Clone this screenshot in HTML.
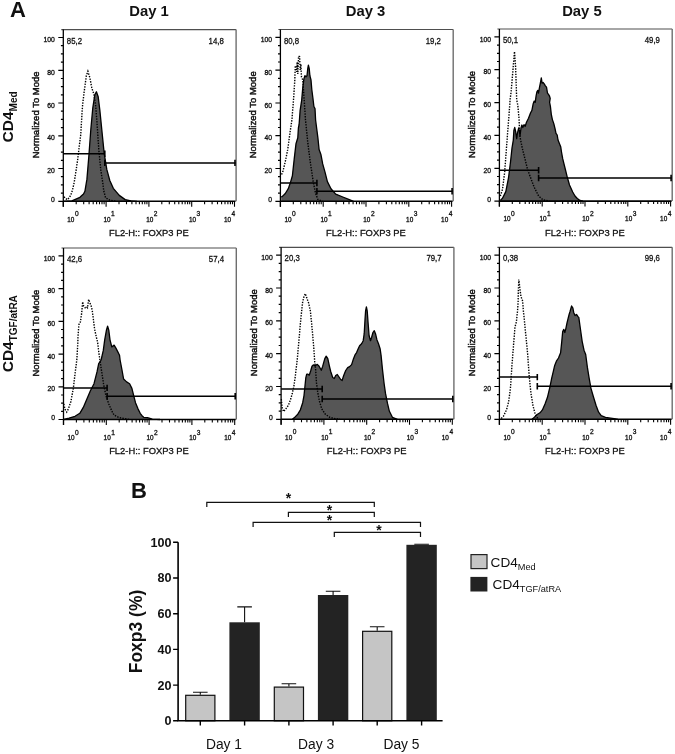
<!DOCTYPE html>
<html><head><meta charset="utf-8"><style>
html,body{margin:0;padding:0;background:#fff;width:675px;height:754px;overflow:hidden}
svg{display:block;will-change:transform}
text{font-family:"Liberation Sans", sans-serif;fill:#111}
.t{stroke:#111;stroke-width:0.3}
.t2{stroke:#111;stroke-width:0.45}
</style></head><body>
<svg width="675" height="754" viewBox="0 0 675 754">
<rect width="675" height="754" fill="#fff"/>
<text x="10.0" y="17.3" font-size="22" font-weight="bold">A</text>
<text x="149.0" y="16.4" text-anchor="middle" font-size="14.8" font-weight="bold">Day 1</text>
<text x="365.5" y="16.4" text-anchor="middle" font-size="14.8" font-weight="bold">Day 3</text>
<text x="581.9" y="16.4" text-anchor="middle" font-size="14.8" font-weight="bold">Day 5</text>
<text transform="translate(12.9,142.4) rotate(-90)" font-size="15.5" font-weight="bold">CD4<tspan font-size="10" dy="3.9">Med</tspan></text>
<text transform="translate(12.9,372.3) rotate(-90)" font-size="15.5" font-weight="bold">CD4<tspan font-size="10" dy="3.9">TGF/atRA</tspan></text>
<polygon points="64.0,201.3 64.0,201.3 71.9,200.9 79.9,197.3 83.5,194.0 84.9,191.3 86.9,179.4 88.9,155.5 90.8,129.7 92.8,107.8 94.8,94.8 96.4,91.8 98.2,96.8 99.8,109.8 101.8,129.7 104.2,153.5 106.8,169.4 109.8,180.5 113.3,188.3 119.3,195.4 125.2,199.6 131.0,200.8 137.0,201.3 137.0,201.3" fill="#565656" stroke="none"/>
<polyline points="64.0,201.3 71.9,200.9 79.9,197.3 83.5,194.0 84.9,191.3 86.9,179.4 88.9,155.5 90.8,129.7 92.8,107.8 94.8,94.8 96.4,91.8 98.2,96.8 99.8,109.8 101.8,129.7 104.2,153.5 106.8,169.4 109.8,180.5 113.3,188.3 119.3,195.4 125.2,199.6 131.0,200.8 137.0,201.3" fill="none" stroke="#000" stroke-width="1.3" stroke-linejoin="round"/>
<polyline points="64.0,196.8 65.5,198.6 67.7,199.6 70.7,195.4 72.5,190.0 74.2,182.4 76.0,171.0 77.8,158.7 79.3,146.0 80.7,135.0 81.6,120.0 82.5,106.0 83.9,93.8 86.3,75.9 87.9,71.3 89.9,77.9 91.8,87.9 93.8,93.8 95.5,104.0 96.8,119.7 98.8,149.6 100.8,170.0 102.7,182.4 103.8,191.0 105.6,197.8 109.8,200.2 116.0,201.3" fill="none" stroke="#000" stroke-width="1.4" stroke-dasharray="1.4 1.3"/>
<path d="M61.3,29.6H236.1" fill="none" stroke="#4e4e4e" stroke-width="1.2"/>
<path d="M236.1,29.6V201.3" fill="none" stroke="#6e6e6e" stroke-width="1.4"/>
<path d="M63.3,29.6V206.8" stroke="#000" stroke-width="1.3"/>
<path d="M63.3,201.3H235.5" stroke="#000" stroke-width="1.6"/>
<path d="M58.3,201.3H63.3M60.9,193.1H63.3M60.9,184.9H63.3M60.9,176.7H63.3M58.3,168.5H63.3M60.9,160.4H63.3M60.9,152.2H63.3M60.9,144.0H63.3M58.3,135.8H63.3M60.9,127.6H63.3M60.9,119.4H63.3M60.9,111.2H63.3M58.3,103.0H63.3M60.9,94.8H63.3M60.9,86.6H63.3M60.9,78.5H63.3M58.3,70.3H63.3M60.9,62.1H63.3M60.9,53.9H63.3M60.9,45.7H63.3M58.3,37.5H63.3" stroke="#000" stroke-width="1.2"/>
<path d="M63.3,201.3V206.8M76.2,201.3V204.3M83.7,201.3V204.3M89.1,201.3V204.3M93.2,201.3V204.3M96.6,201.3V204.3M99.5,201.3V204.3M102.0,201.3V204.3M104.1,201.3V204.3M106.1,201.3V206.8M119.0,201.3V204.3M126.5,201.3V204.3M131.9,201.3V204.3M136.0,201.3V204.3M139.4,201.3V204.3M142.3,201.3V204.3M144.8,201.3V204.3M146.9,201.3V204.3M148.9,201.3V206.8M161.8,201.3V204.3M169.3,201.3V204.3M174.7,201.3V204.3M178.8,201.3V204.3M182.2,201.3V204.3M185.1,201.3V204.3M187.6,201.3V204.3M189.7,201.3V204.3M191.7,201.3V206.8M204.6,201.3V204.3M212.1,201.3V204.3M217.5,201.3V204.3M221.6,201.3V204.3M225.0,201.3V204.3M227.9,201.3V204.3M230.4,201.3V204.3M232.5,201.3V204.3M234.5,201.3V206.8" stroke="#000" stroke-width="1.1"/>
<text x="54.9" y="202.2" text-anchor="end" font-size="6.8" class="t">0</text>
<text x="54.9" y="173.1" text-anchor="end" font-size="6.8" class="t">20</text>
<text x="54.9" y="140.4" text-anchor="end" font-size="6.8" class="t">40</text>
<text x="54.9" y="107.6" text-anchor="end" font-size="6.8" class="t">60</text>
<text x="54.9" y="74.9" text-anchor="end" font-size="6.8" class="t">80</text>
<text x="54.9" y="42.1" text-anchor="end" font-size="6.8" class="t">100</text>
<text x="67.3" y="221.5" font-size="6.4" class="t">10</text>
<text x="74.9" y="216.3" font-size="6.6" class="t">0</text>
<text x="103.4" y="221.5" font-size="6.4" class="t">10</text>
<text x="111.0" y="216.3" font-size="6.6" class="t">1</text>
<text x="146.2" y="221.5" font-size="6.4" class="t">10</text>
<text x="153.8" y="216.3" font-size="6.6" class="t">2</text>
<text x="189.0" y="221.5" font-size="6.4" class="t">10</text>
<text x="196.6" y="216.3" font-size="6.6" class="t">3</text>
<text x="224.0" y="221.5" font-size="6.4" class="t">10</text>
<text x="231.6" y="216.3" font-size="6.6" class="t">4</text>
<text x="148.8" y="236.1" text-anchor="middle" font-size="9.4" class="t">FL2-H:: FOXP3 PE</text>
<text transform="translate(38.8,114.9) rotate(-90)" text-anchor="middle" font-size="9.5" class="t2">Normalized To Mode</text>
<text transform="translate(66.8,43.6) scale(0.85,1)" font-size="9.2" class="t">85,2</text>
<text transform="translate(223.8,43.6) scale(0.85,1)" text-anchor="end" font-size="9.2" class="t">14,8</text>
<path d="M63.3,153.7H104.8M104.8,162.9H235.5" stroke="#000" stroke-width="1.5"/>
<path d="M104.8,150.5V156.9M104.8,159.7V166.1M235.0,159.7V166.1" stroke="#000" stroke-width="1.6"/>
<polygon points="281.2,201.3 281.2,197.0 282.4,196.4 285.3,193.5 288.3,188.7 290.7,181.6 292.4,175.7 294.2,159.1 296.0,143.7 297.8,137.8 298.4,128.0 299.1,124.5 300.1,110.7 301.7,100.1 302.8,87.4 303.9,78.9 304.9,75.7 306.0,76.8 307.0,75.7 307.8,68.3 308.4,65.1 309.2,68.3 309.9,75.7 311.0,80.0 311.8,89.5 312.9,98.0 313.9,106.5 315.0,108.6 315.6,120.0 317.9,137.8 319.1,149.6 320.9,154.4 322.7,163.9 325.0,172.1 327.4,181.6 331.0,188.7 335.7,194.1 342.8,197.0 348.7,199.4 353.5,201.3 353.5,201.3" fill="#565656" stroke="none"/>
<polyline points="281.2,197.0 282.4,196.4 285.3,193.5 288.3,188.7 290.7,181.6 292.4,175.7 294.2,159.1 296.0,143.7 297.8,137.8 298.4,128.0 299.1,124.5 300.1,110.7 301.7,100.1 302.8,87.4 303.9,78.9 304.9,75.7 306.0,76.8 307.0,75.7 307.8,68.3 308.4,65.1 309.2,68.3 309.9,75.7 311.0,80.0 311.8,89.5 312.9,98.0 313.9,106.5 315.0,108.6 315.6,120.0 317.9,137.8 319.1,149.6 320.9,154.4 322.7,163.9 325.0,172.1 327.4,181.6 331.0,188.7 335.7,194.1 342.8,197.0 348.7,199.4 353.5,201.3" fill="none" stroke="#000" stroke-width="1.3" stroke-linejoin="round"/>
<polyline points="281.6,174.5 283.0,171.0 285.3,161.5 287.7,149.6 290.1,131.9 291.9,120.0 293.5,100.0 294.8,80.0 295.3,66.2 295.9,65.7 296.6,72.0 297.2,62.0 297.8,74.0 298.6,56.1 299.6,56.7 300.2,70.0 300.8,64.0 301.5,77.0 302.8,80.0 304.2,100.0 305.5,120.0 307.9,143.7 310.2,161.5 313.2,181.6 315.6,193.5 317.9,199.4 322.7,201.3" fill="none" stroke="#000" stroke-width="1.4" stroke-dasharray="1.4 1.3"/>
<path d="M278.4,29.5H453.2" fill="none" stroke="#4e4e4e" stroke-width="1.2"/>
<path d="M453.2,29.5V201.3" fill="none" stroke="#6e6e6e" stroke-width="1.4"/>
<path d="M280.4,29.5V206.8" stroke="#000" stroke-width="1.3"/>
<path d="M280.4,201.3H452.6" stroke="#000" stroke-width="1.6"/>
<path d="M275.4,201.3H280.4M278.0,193.1H280.4M278.0,184.9H280.4M278.0,176.7H280.4M275.4,168.5H280.4M278.0,160.3H280.4M278.0,152.1H280.4M278.0,143.9H280.4M275.4,135.7H280.4M278.0,127.5H280.4M278.0,119.4H280.4M278.0,111.2H280.4M275.4,103.0H280.4M278.0,94.8H280.4M278.0,86.6H280.4M278.0,78.4H280.4M275.4,70.2H280.4M278.0,62.0H280.4M278.0,53.8H280.4M278.0,45.6H280.4M275.4,37.4H280.4" stroke="#000" stroke-width="1.2"/>
<path d="M280.4,201.3V206.8M293.3,201.3V204.3M300.8,201.3V204.3M306.2,201.3V204.3M310.3,201.3V204.3M313.7,201.3V204.3M316.6,201.3V204.3M319.1,201.3V204.3M321.2,201.3V204.3M323.2,201.3V206.8M336.1,201.3V204.3M343.6,201.3V204.3M349.0,201.3V204.3M353.1,201.3V204.3M356.5,201.3V204.3M359.4,201.3V204.3M361.9,201.3V204.3M364.0,201.3V204.3M366.0,201.3V206.8M378.9,201.3V204.3M386.4,201.3V204.3M391.8,201.3V204.3M395.9,201.3V204.3M399.3,201.3V204.3M402.2,201.3V204.3M404.7,201.3V204.3M406.8,201.3V204.3M408.8,201.3V206.8M421.7,201.3V204.3M429.2,201.3V204.3M434.6,201.3V204.3M438.7,201.3V204.3M442.1,201.3V204.3M445.0,201.3V204.3M447.5,201.3V204.3M449.6,201.3V204.3M451.6,201.3V206.8" stroke="#000" stroke-width="1.1"/>
<text x="272.0" y="202.2" text-anchor="end" font-size="6.8" class="t">0</text>
<text x="272.0" y="173.1" text-anchor="end" font-size="6.8" class="t">20</text>
<text x="272.0" y="140.3" text-anchor="end" font-size="6.8" class="t">40</text>
<text x="272.0" y="107.6" text-anchor="end" font-size="6.8" class="t">60</text>
<text x="272.0" y="74.8" text-anchor="end" font-size="6.8" class="t">80</text>
<text x="272.0" y="42.0" text-anchor="end" font-size="6.8" class="t">100</text>
<text x="284.4" y="221.5" font-size="6.4" class="t">10</text>
<text x="292.0" y="216.3" font-size="6.6" class="t">0</text>
<text x="320.5" y="221.5" font-size="6.4" class="t">10</text>
<text x="328.1" y="216.3" font-size="6.6" class="t">1</text>
<text x="363.3" y="221.5" font-size="6.4" class="t">10</text>
<text x="370.9" y="216.3" font-size="6.6" class="t">2</text>
<text x="406.1" y="221.5" font-size="6.4" class="t">10</text>
<text x="413.7" y="216.3" font-size="6.6" class="t">3</text>
<text x="441.1" y="221.5" font-size="6.4" class="t">10</text>
<text x="448.7" y="216.3" font-size="6.6" class="t">4</text>
<text x="365.9" y="236.1" text-anchor="middle" font-size="9.4" class="t">FL2-H:: FOXP3 PE</text>
<text transform="translate(255.9,114.8) rotate(-90)" text-anchor="middle" font-size="9.5" class="t2">Normalized To Mode</text>
<text transform="translate(283.9,43.5) scale(0.85,1)" font-size="9.2" class="t">80,8</text>
<text transform="translate(440.9,43.5) scale(0.85,1)" text-anchor="end" font-size="9.2" class="t">19,2</text>
<path d="M280.4,183.0H316.9M316.9,191.2H452.6" stroke="#000" stroke-width="1.5"/>
<path d="M316.9,179.8V186.2M316.9,188.0V194.4M452.1,188.0V194.4" stroke="#000" stroke-width="1.6"/>
<polygon points="500.3,201.1 500.3,200.4 502.5,198.2 505.8,191.6 508.5,178.0 510.5,162.0 512.0,148.0 513.3,140.1 513.9,130.3 514.7,127.3 515.7,131.6 516.7,138.7 517.5,133.0 518.7,128.0 519.6,131.6 520.0,136.0 521.0,128.0 521.9,125.0 522.8,127.6 524.0,124.7 525.2,126.3 526.5,122.3 528.5,118.3 530.5,113.0 531.9,110.4 533.2,103.7 534.2,101.1 535.2,102.4 536.1,95.8 536.9,91.8 537.8,90.4 538.5,93.1 539.4,87.8 540.5,82.5 541.3,77.8 542.1,83.1 543.1,82.5 544.2,83.8 545.4,85.8 546.5,87.1 547.5,93.1 548.5,94.4 549.4,95.8 550.2,98.4 549.6,102.4 550.4,106.4 551.3,114.3 552.4,119.6 553.8,123.6 555.1,129.0 556.0,133.3 557.2,135.0 558.0,140.0 560.7,146.7 561.5,152.0 562.7,158.7 564.0,164.0 565.5,170.0 567.3,177.3 569.5,185.0 572.7,192.0 575.0,196.0 577.3,198.5 580.0,200.5 583.0,201.1 583.0,201.1" fill="#565656" stroke="none"/>
<polyline points="500.3,200.4 502.5,198.2 505.8,191.6 508.5,178.0 510.5,162.0 512.0,148.0 513.3,140.1 513.9,130.3 514.7,127.3 515.7,131.6 516.7,138.7 517.5,133.0 518.7,128.0 519.6,131.6 520.0,136.0 521.0,128.0 521.9,125.0 522.8,127.6 524.0,124.7 525.2,126.3 526.5,122.3 528.5,118.3 530.5,113.0 531.9,110.4 533.2,103.7 534.2,101.1 535.2,102.4 536.1,95.8 536.9,91.8 537.8,90.4 538.5,93.1 539.4,87.8 540.5,82.5 541.3,77.8 542.1,83.1 543.1,82.5 544.2,83.8 545.4,85.8 546.5,87.1 547.5,93.1 548.5,94.4 549.4,95.8 550.2,98.4 549.6,102.4 550.4,106.4 551.3,114.3 552.4,119.6 553.8,123.6 555.1,129.0 556.0,133.3 557.2,135.0 558.0,140.0 560.7,146.7 561.5,152.0 562.7,158.7 564.0,164.0 565.5,170.0 567.3,177.3 569.5,185.0 572.7,192.0 575.0,196.0 577.3,198.5 580.0,200.5 583.0,201.1" fill="none" stroke="#000" stroke-width="1.3" stroke-linejoin="round"/>
<polyline points="500.3,196.0 502.5,189.4 504.7,171.9 506.8,143.5 509.0,115.0 510.1,99.7 511.2,91.0 512.3,77.8 513.4,64.7 514.5,51.6 515.6,66.9 516.7,99.7 517.8,105.2 518.9,117.2 520.0,136.9 522.2,147.8 524.4,156.6 527.6,169.7 530.9,178.5 534.2,187.2 538.6,196.0 543.0,199.9 549.5,201.1" fill="none" stroke="#000" stroke-width="1.4" stroke-dasharray="1.4 1.3"/>
<path d="M497.4,29.0H672.2" fill="none" stroke="#4e4e4e" stroke-width="1.2"/>
<path d="M672.2,29.0V201.1" fill="none" stroke="#6e6e6e" stroke-width="1.4"/>
<path d="M499.4,29.0V206.6" stroke="#000" stroke-width="1.3"/>
<path d="M499.4,201.1H671.6" stroke="#000" stroke-width="1.6"/>
<path d="M494.4,201.1H499.4M497.0,192.9H499.4M497.0,184.7H499.4M497.0,176.5H499.4M494.4,168.3H499.4M497.0,160.1H499.4M497.0,151.8H499.4M497.0,143.6H499.4M494.4,135.4H499.4M497.0,127.2H499.4M497.0,119.0H499.4M497.0,110.8H499.4M494.4,102.6H499.4M497.0,94.4H499.4M497.0,86.2H499.4M497.0,78.0H499.4M494.4,69.7H499.4M497.0,61.5H499.4M497.0,53.3H499.4M497.0,45.1H499.4M494.4,36.9H499.4" stroke="#000" stroke-width="1.2"/>
<path d="M499.4,201.1V206.6M512.3,201.1V204.1M519.8,201.1V204.1M525.2,201.1V204.1M529.3,201.1V204.1M532.7,201.1V204.1M535.6,201.1V204.1M538.1,201.1V204.1M540.2,201.1V204.1M542.2,201.1V206.6M555.1,201.1V204.1M562.6,201.1V204.1M568.0,201.1V204.1M572.1,201.1V204.1M575.5,201.1V204.1M578.4,201.1V204.1M580.9,201.1V204.1M583.0,201.1V204.1M585.0,201.1V206.6M597.9,201.1V204.1M605.4,201.1V204.1M610.8,201.1V204.1M614.9,201.1V204.1M618.3,201.1V204.1M621.2,201.1V204.1M623.7,201.1V204.1M625.8,201.1V204.1M627.8,201.1V206.6M640.7,201.1V204.1M648.2,201.1V204.1M653.6,201.1V204.1M657.7,201.1V204.1M661.1,201.1V204.1M664.0,201.1V204.1M666.5,201.1V204.1M668.6,201.1V204.1M670.6,201.1V206.6" stroke="#000" stroke-width="1.1"/>
<text x="491.0" y="202.0" text-anchor="end" font-size="6.8" class="t">0</text>
<text x="491.0" y="172.9" text-anchor="end" font-size="6.8" class="t">20</text>
<text x="491.0" y="140.0" text-anchor="end" font-size="6.8" class="t">40</text>
<text x="491.0" y="107.2" text-anchor="end" font-size="6.8" class="t">60</text>
<text x="491.0" y="74.3" text-anchor="end" font-size="6.8" class="t">80</text>
<text x="491.0" y="41.5" text-anchor="end" font-size="6.8" class="t">100</text>
<text x="503.4" y="221.3" font-size="6.4" class="t">10</text>
<text x="511.0" y="216.1" font-size="6.6" class="t">0</text>
<text x="539.5" y="221.3" font-size="6.4" class="t">10</text>
<text x="547.1" y="216.1" font-size="6.6" class="t">1</text>
<text x="582.3" y="221.3" font-size="6.4" class="t">10</text>
<text x="589.9" y="216.1" font-size="6.6" class="t">2</text>
<text x="625.1" y="221.3" font-size="6.4" class="t">10</text>
<text x="632.7" y="216.1" font-size="6.6" class="t">3</text>
<text x="660.1" y="221.3" font-size="6.4" class="t">10</text>
<text x="667.7" y="216.1" font-size="6.6" class="t">4</text>
<text x="584.9" y="235.9" text-anchor="middle" font-size="9.4" class="t">FL2-H:: FOXP3 PE</text>
<text transform="translate(474.9,114.5) rotate(-90)" text-anchor="middle" font-size="9.5" class="t2">Normalized To Mode</text>
<text transform="translate(502.9,43.0) scale(0.85,1)" font-size="9.2" class="t">50,1</text>
<text transform="translate(659.9,43.0) scale(0.85,1)" text-anchor="end" font-size="9.2" class="t">49,9</text>
<path d="M499.4,170.2H538.6M538.6,178.0H671.6" stroke="#000" stroke-width="1.5"/>
<path d="M538.6,167.0V173.4M538.6,174.8V181.2M671.1,174.8V181.2" stroke="#000" stroke-width="1.6"/>
<polygon points="63.8,419.5 63.8,419.5 69.1,418.1 75.0,416.3 79.8,413.3 83.3,407.4 86.9,399.1 90.4,390.8 94.0,383.7 97.0,371.9 98.7,363.6 101.1,360.0 103.3,350.4 104.7,339.8 106.4,330.3 107.6,326.1 108.8,330.3 110.0,339.8 111.8,346.9 114.1,345.1 115.9,348.1 117.7,351.6 119.5,355.2 120.1,360.0 121.9,369.5 123.6,379.0 126.6,381.9 129.6,383.7 131.9,388.4 133.7,395.6 135.5,402.7 137.9,408.6 140.2,413.3 142.0,415.7 143.7,417.3 147.5,417.7 152.3,419.2 160.0,419.5 160.0,419.5" fill="#565656" stroke="none"/>
<polyline points="63.8,419.5 69.1,418.1 75.0,416.3 79.8,413.3 83.3,407.4 86.9,399.1 90.4,390.8 94.0,383.7 97.0,371.9 98.7,363.6 101.1,360.0 103.3,350.4 104.7,339.8 106.4,330.3 107.6,326.1 108.8,330.3 110.0,339.8 111.8,346.9 114.1,345.1 115.9,348.1 117.7,351.6 119.5,355.2 120.1,360.0 121.9,369.5 123.6,379.0 126.6,381.9 129.6,383.7 131.9,388.4 133.7,395.6 135.5,402.7 137.9,408.6 140.2,413.3 142.0,415.7 143.7,417.3 147.5,417.7 152.3,419.2 160.0,419.5" fill="none" stroke="#000" stroke-width="1.3" stroke-linejoin="round"/>
<polyline points="63.8,403.9 65.0,409.2 66.7,412.1 68.5,408.6 70.9,401.5 73.3,388.4 75.0,374.2 76.8,360.0 77.6,347.0 78.0,337.4 78.6,327.9 79.2,323.2 80.4,322.0 81.6,313.7 82.7,301.9 83.3,305.4 85.1,307.8 86.3,306.6 87.5,307.8 88.7,299.5 89.9,303.0 91.0,305.4 92.2,310.1 93.4,319.6 94.6,329.1 96.4,337.4 97.6,342.1 98.7,351.6 99.9,360.0 101.7,371.9 103.5,383.7 105.9,395.6 108.8,403.9 111.8,411.0 114.1,415.1 118.9,417.5 124.8,418.7 130.0,419.5" fill="none" stroke="#000" stroke-width="1.4" stroke-dasharray="1.4 1.3"/>
<path d="M61.5,248.0H236.3" fill="none" stroke="#4e4e4e" stroke-width="1.2"/>
<path d="M236.3,248.0V419.5" fill="none" stroke="#6e6e6e" stroke-width="1.4"/>
<path d="M63.5,248.0V425.0" stroke="#000" stroke-width="1.3"/>
<path d="M63.5,419.5H235.7" stroke="#000" stroke-width="1.6"/>
<path d="M58.5,419.5H63.5M61.1,411.3H63.5M61.1,403.1H63.5M61.1,395.0H63.5M58.5,386.8H63.5M61.1,378.6H63.5M61.1,370.4H63.5M61.1,362.2H63.5M58.5,354.1H63.5M61.1,345.9H63.5M61.1,337.7H63.5M61.1,329.5H63.5M58.5,321.3H63.5M61.1,313.2H63.5M61.1,305.0H63.5M61.1,296.8H63.5M58.5,288.6H63.5M61.1,280.4H63.5M61.1,272.3H63.5M61.1,264.1H63.5M58.5,255.9H63.5" stroke="#000" stroke-width="1.2"/>
<path d="M63.5,419.5V425.0M76.4,419.5V422.5M83.9,419.5V422.5M89.3,419.5V422.5M93.4,419.5V422.5M96.8,419.5V422.5M99.7,419.5V422.5M102.2,419.5V422.5M104.3,419.5V422.5M106.3,419.5V425.0M119.2,419.5V422.5M126.7,419.5V422.5M132.1,419.5V422.5M136.2,419.5V422.5M139.6,419.5V422.5M142.5,419.5V422.5M145.0,419.5V422.5M147.1,419.5V422.5M149.1,419.5V425.0M162.0,419.5V422.5M169.5,419.5V422.5M174.9,419.5V422.5M179.0,419.5V422.5M182.4,419.5V422.5M185.3,419.5V422.5M187.8,419.5V422.5M189.9,419.5V422.5M191.9,419.5V425.0M204.8,419.5V422.5M212.3,419.5V422.5M217.7,419.5V422.5M221.8,419.5V422.5M225.2,419.5V422.5M228.1,419.5V422.5M230.6,419.5V422.5M232.7,419.5V422.5M234.7,419.5V425.0" stroke="#000" stroke-width="1.1"/>
<text x="55.1" y="420.4" text-anchor="end" font-size="6.8" class="t">0</text>
<text x="55.1" y="391.4" text-anchor="end" font-size="6.8" class="t">20</text>
<text x="55.1" y="358.7" text-anchor="end" font-size="6.8" class="t">40</text>
<text x="55.1" y="325.9" text-anchor="end" font-size="6.8" class="t">60</text>
<text x="55.1" y="293.2" text-anchor="end" font-size="6.8" class="t">80</text>
<text x="55.1" y="260.5" text-anchor="end" font-size="6.8" class="t">100</text>
<text x="67.5" y="439.7" font-size="6.4" class="t">10</text>
<text x="75.1" y="434.5" font-size="6.6" class="t">0</text>
<text x="103.6" y="439.7" font-size="6.4" class="t">10</text>
<text x="111.2" y="434.5" font-size="6.6" class="t">1</text>
<text x="146.4" y="439.7" font-size="6.4" class="t">10</text>
<text x="154.0" y="434.5" font-size="6.6" class="t">2</text>
<text x="189.2" y="439.7" font-size="6.4" class="t">10</text>
<text x="196.8" y="434.5" font-size="6.6" class="t">3</text>
<text x="224.2" y="439.7" font-size="6.4" class="t">10</text>
<text x="231.8" y="434.5" font-size="6.6" class="t">4</text>
<text x="149.0" y="454.3" text-anchor="middle" font-size="9.4" class="t">FL2-H:: FOXP3 PE</text>
<text transform="translate(39.0,333.1) rotate(-90)" text-anchor="middle" font-size="9.5" class="t2">Normalized To Mode</text>
<text transform="translate(67.0,262.0) scale(0.85,1)" font-size="9.2" class="t">42,6</text>
<text transform="translate(224.0,262.0) scale(0.85,1)" text-anchor="end" font-size="9.2" class="t">57,4</text>
<path d="M63.5,387.9H107.1M107.1,396.2H235.7" stroke="#000" stroke-width="1.5"/>
<path d="M107.1,384.7V391.1M107.1,393.0V399.4M235.2,393.0V399.4" stroke="#000" stroke-width="1.6"/>
<polygon points="292.4,419.3 292.4,419.2 295.1,416.9 297.8,414.2 300.4,409.8 302.7,402.7 304.0,395.6 304.9,386.7 305.8,377.8 306.7,374.2 308.0,374.2 309.3,375.1 310.7,370.7 312.0,366.2 313.3,364.9 315.1,365.8 317.3,364.4 319.1,366.2 321.3,370.2 322.7,366.2 323.4,363.6 324.8,358.6 326.2,356.2 327.8,358.6 329.3,365.6 330.7,371.5 332.7,377.5 334.3,378.5 335.7,375.5 337.3,374.5 338.7,376.5 340.7,379.5 342.1,380.5 343.7,375.5 345.7,370.5 347.7,367.6 349.6,366.6 351.6,364.6 353.2,359.6 355.2,354.6 356.6,352.6 358.2,348.7 359.6,345.7 361.6,343.7 363.2,340.7 364.2,333.7 365.0,319.8 365.6,310.8 366.4,306.9 367.2,310.8 368.0,321.8 369.1,335.7 370.5,340.7 371.5,337.7 372.9,332.7 374.3,330.7 375.5,333.7 376.9,339.7 378.5,343.7 380.1,348.7 381.1,355.6 382.5,369.6 384.1,383.5 385.5,393.4 387.5,403.4 389.4,411.3 392.4,417.3 397.4,419.3 397.4,419.3" fill="#565656" stroke="none"/>
<polyline points="292.4,419.2 295.1,416.9 297.8,414.2 300.4,409.8 302.7,402.7 304.0,395.6 304.9,386.7 305.8,377.8 306.7,374.2 308.0,374.2 309.3,375.1 310.7,370.7 312.0,366.2 313.3,364.9 315.1,365.8 317.3,364.4 319.1,366.2 321.3,370.2 322.7,366.2 323.4,363.6 324.8,358.6 326.2,356.2 327.8,358.6 329.3,365.6 330.7,371.5 332.7,377.5 334.3,378.5 335.7,375.5 337.3,374.5 338.7,376.5 340.7,379.5 342.1,380.5 343.7,375.5 345.7,370.5 347.7,367.6 349.6,366.6 351.6,364.6 353.2,359.6 355.2,354.6 356.6,352.6 358.2,348.7 359.6,345.7 361.6,343.7 363.2,340.7 364.2,333.7 365.0,319.8 365.6,310.8 366.4,306.9 367.2,310.8 368.0,321.8 369.1,335.7 370.5,340.7 371.5,337.7 372.9,332.7 374.3,330.7 375.5,333.7 376.9,339.7 378.5,343.7 380.1,348.7 381.1,355.6 382.5,369.6 384.1,383.5 385.5,393.4 387.5,403.4 389.4,411.3 392.4,417.3 397.4,419.3" fill="none" stroke="#000" stroke-width="1.3" stroke-linejoin="round"/>
<polyline points="281.3,399.1 282.2,408.0 283.6,411.6 285.8,408.9 288.4,405.3 290.7,399.1 292.4,392.9 293.8,386.7 295.1,377.8 295.5,374.5 297.3,359.0 299.1,338.7 300.3,324.4 301.5,312.4 302.7,301.7 303.9,296.9 305.3,293.6 306.8,298.1 308.6,302.9 310.4,311.2 311.6,323.2 312.8,336.3 314.0,350.6 314.7,361.8 315.6,368.9 316.4,382.2 317.8,392.9 319.6,401.8 321.8,408.9 325.3,414.2 329.8,417.3 335.1,418.7 340.0,419.2" fill="none" stroke="#000" stroke-width="1.4" stroke-dasharray="1.4 1.3"/>
<path d="M279.1,247.3H453.9" fill="none" stroke="#4e4e4e" stroke-width="1.2"/>
<path d="M453.9,247.3V419.3" fill="none" stroke="#6e6e6e" stroke-width="1.4"/>
<path d="M281.1,247.3V424.8" stroke="#000" stroke-width="1.3"/>
<path d="M281.1,419.3H453.3" stroke="#000" stroke-width="1.6"/>
<path d="M276.1,419.3H281.1M278.7,411.1H281.1M278.7,402.9H281.1M278.7,394.7H281.1M276.1,386.5H281.1M278.7,378.3H281.1M278.7,370.1H281.1M278.7,361.9H281.1M276.1,353.7H281.1M278.7,345.5H281.1M278.7,337.2H281.1M278.7,329.0H281.1M276.1,320.8H281.1M278.7,312.6H281.1M278.7,304.4H281.1M278.7,296.2H281.1M276.1,288.0H281.1M278.7,279.8H281.1M278.7,271.6H281.1M278.7,263.4H281.1M276.1,255.2H281.1" stroke="#000" stroke-width="1.2"/>
<path d="M281.1,419.3V424.8M294.0,419.3V422.3M301.5,419.3V422.3M306.9,419.3V422.3M311.0,419.3V422.3M314.4,419.3V422.3M317.3,419.3V422.3M319.8,419.3V422.3M321.9,419.3V422.3M323.9,419.3V424.8M336.8,419.3V422.3M344.3,419.3V422.3M349.7,419.3V422.3M353.8,419.3V422.3M357.2,419.3V422.3M360.1,419.3V422.3M362.6,419.3V422.3M364.7,419.3V422.3M366.7,419.3V424.8M379.6,419.3V422.3M387.1,419.3V422.3M392.5,419.3V422.3M396.6,419.3V422.3M400.0,419.3V422.3M402.9,419.3V422.3M405.4,419.3V422.3M407.5,419.3V422.3M409.5,419.3V424.8M422.4,419.3V422.3M429.9,419.3V422.3M435.3,419.3V422.3M439.4,419.3V422.3M442.8,419.3V422.3M445.7,419.3V422.3M448.2,419.3V422.3M450.3,419.3V422.3M452.3,419.3V424.8" stroke="#000" stroke-width="1.1"/>
<text x="272.7" y="420.2" text-anchor="end" font-size="6.8" class="t">0</text>
<text x="272.7" y="391.1" text-anchor="end" font-size="6.8" class="t">20</text>
<text x="272.7" y="358.3" text-anchor="end" font-size="6.8" class="t">40</text>
<text x="272.7" y="325.4" text-anchor="end" font-size="6.8" class="t">60</text>
<text x="272.7" y="292.6" text-anchor="end" font-size="6.8" class="t">80</text>
<text x="272.7" y="259.8" text-anchor="end" font-size="6.8" class="t">100</text>
<text x="285.1" y="439.5" font-size="6.4" class="t">10</text>
<text x="292.7" y="434.3" font-size="6.6" class="t">0</text>
<text x="321.2" y="439.5" font-size="6.4" class="t">10</text>
<text x="328.8" y="434.3" font-size="6.6" class="t">1</text>
<text x="364.0" y="439.5" font-size="6.4" class="t">10</text>
<text x="371.6" y="434.3" font-size="6.6" class="t">2</text>
<text x="406.8" y="439.5" font-size="6.4" class="t">10</text>
<text x="414.4" y="434.3" font-size="6.6" class="t">3</text>
<text x="441.8" y="439.5" font-size="6.4" class="t">10</text>
<text x="449.4" y="434.3" font-size="6.6" class="t">4</text>
<text x="366.6" y="454.1" text-anchor="middle" font-size="9.4" class="t">FL2-H:: FOXP3 PE</text>
<text transform="translate(256.6,332.7) rotate(-90)" text-anchor="middle" font-size="9.5" class="t2">Normalized To Mode</text>
<text transform="translate(284.6,261.3) scale(0.85,1)" font-size="9.2" class="t">20,3</text>
<text transform="translate(441.6,261.3) scale(0.85,1)" text-anchor="end" font-size="9.2" class="t">79,7</text>
<path d="M281.1,389.0H322.2M322.2,399.0H453.3" stroke="#000" stroke-width="1.5"/>
<path d="M322.2,385.8V392.2M322.2,395.8V402.2M452.8,395.8V402.2" stroke="#000" stroke-width="1.6"/>
<polygon points="532.0,419.3 532.0,419.3 533.5,418.1 537.1,414.5 540.0,412.8 542.4,409.9 545.0,404.0 547.4,397.6 550.0,386.6 551.7,378.1 553.2,371.8 554.7,365.4 556.4,361.2 558.5,358.0 560.6,352.7 561.7,342.1 562.7,331.5 563.8,329.4 564.8,332.5 565.9,328.3 567.0,323.0 568.0,318.8 569.1,314.5 570.1,311.3 571.6,306.0 572.9,308.2 573.7,312.4 575.0,315.6 576.5,314.5 578.0,316.6 578.8,317.4 580.5,329.5 582.2,341.6 584.0,350.2 585.7,354.5 587.4,367.4 589.1,377.8 590.9,388.1 593.4,396.7 596.0,405.3 598.6,412.2 601.2,415.7 605.5,417.4 614.1,418.6 618.0,419.3 618.0,419.3" fill="#565656" stroke="none"/>
<polyline points="532.0,419.3 533.5,418.1 537.1,414.5 540.0,412.8 542.4,409.9 545.0,404.0 547.4,397.6 550.0,386.6 551.7,378.1 553.2,371.8 554.7,365.4 556.4,361.2 558.5,358.0 560.6,352.7 561.7,342.1 562.7,331.5 563.8,329.4 564.8,332.5 565.9,328.3 567.0,323.0 568.0,318.8 569.1,314.5 570.1,311.3 571.6,306.0 572.9,308.2 573.7,312.4 575.0,315.6 576.5,314.5 578.0,316.6 578.8,317.4 580.5,329.5 582.2,341.6 584.0,350.2 585.7,354.5 587.4,367.4 589.1,377.8 590.9,388.1 593.4,396.7 596.0,405.3 598.6,412.2 601.2,415.7 605.5,417.4 614.1,418.6 618.0,419.3" fill="none" stroke="#000" stroke-width="1.3" stroke-linejoin="round"/>
<polyline points="501.2,418.4 503.4,416.3 506.5,409.9 508.7,401.4 510.4,388.7 511.8,367.5 513.6,344.2 515.0,327.1 516.4,321.8 517.5,311.2 518.1,303.0 518.3,292.0 518.8,279.5 519.6,286.0 520.9,296.4 522.5,300.6 523.0,305.9 523.5,312.3 524.3,319.1 525.1,328.2 526.3,340.0 527.7,354.8 529.2,376.0 530.9,393.0 533.0,405.7 535.2,414.2 538.3,419.3" fill="none" stroke="#000" stroke-width="1.4" stroke-dasharray="1.4 1.3"/>
<path d="M497.4,247.3H672.2" fill="none" stroke="#4e4e4e" stroke-width="1.2"/>
<path d="M672.2,247.3V419.3" fill="none" stroke="#6e6e6e" stroke-width="1.4"/>
<path d="M499.4,247.3V424.8" stroke="#000" stroke-width="1.3"/>
<path d="M499.4,419.3H671.6" stroke="#000" stroke-width="1.6"/>
<path d="M494.4,419.3H499.4M497.0,411.1H499.4M497.0,402.9H499.4M497.0,394.7H499.4M494.4,386.5H499.4M497.0,378.3H499.4M497.0,370.1H499.4M497.0,361.9H499.4M494.4,353.7H499.4M497.0,345.5H499.4M497.0,337.2H499.4M497.0,329.0H499.4M494.4,320.8H499.4M497.0,312.6H499.4M497.0,304.4H499.4M497.0,296.2H499.4M494.4,288.0H499.4M497.0,279.8H499.4M497.0,271.6H499.4M497.0,263.4H499.4M494.4,255.2H499.4" stroke="#000" stroke-width="1.2"/>
<path d="M499.4,419.3V424.8M512.3,419.3V422.3M519.8,419.3V422.3M525.2,419.3V422.3M529.3,419.3V422.3M532.7,419.3V422.3M535.6,419.3V422.3M538.1,419.3V422.3M540.2,419.3V422.3M542.2,419.3V424.8M555.1,419.3V422.3M562.6,419.3V422.3M568.0,419.3V422.3M572.1,419.3V422.3M575.5,419.3V422.3M578.4,419.3V422.3M580.9,419.3V422.3M583.0,419.3V422.3M585.0,419.3V424.8M597.9,419.3V422.3M605.4,419.3V422.3M610.8,419.3V422.3M614.9,419.3V422.3M618.3,419.3V422.3M621.2,419.3V422.3M623.7,419.3V422.3M625.8,419.3V422.3M627.8,419.3V424.8M640.7,419.3V422.3M648.2,419.3V422.3M653.6,419.3V422.3M657.7,419.3V422.3M661.1,419.3V422.3M664.0,419.3V422.3M666.5,419.3V422.3M668.6,419.3V422.3M670.6,419.3V424.8" stroke="#000" stroke-width="1.1"/>
<text x="491.0" y="420.2" text-anchor="end" font-size="6.8" class="t">0</text>
<text x="491.0" y="391.1" text-anchor="end" font-size="6.8" class="t">20</text>
<text x="491.0" y="358.3" text-anchor="end" font-size="6.8" class="t">40</text>
<text x="491.0" y="325.4" text-anchor="end" font-size="6.8" class="t">60</text>
<text x="491.0" y="292.6" text-anchor="end" font-size="6.8" class="t">80</text>
<text x="491.0" y="259.8" text-anchor="end" font-size="6.8" class="t">100</text>
<text x="503.4" y="439.5" font-size="6.4" class="t">10</text>
<text x="511.0" y="434.3" font-size="6.6" class="t">0</text>
<text x="539.5" y="439.5" font-size="6.4" class="t">10</text>
<text x="547.1" y="434.3" font-size="6.6" class="t">1</text>
<text x="582.3" y="439.5" font-size="6.4" class="t">10</text>
<text x="589.9" y="434.3" font-size="6.6" class="t">2</text>
<text x="625.1" y="439.5" font-size="6.4" class="t">10</text>
<text x="632.7" y="434.3" font-size="6.6" class="t">3</text>
<text x="660.1" y="439.5" font-size="6.4" class="t">10</text>
<text x="667.7" y="434.3" font-size="6.6" class="t">4</text>
<text x="584.9" y="454.1" text-anchor="middle" font-size="9.4" class="t">FL2-H:: FOXP3 PE</text>
<text transform="translate(474.9,332.7) rotate(-90)" text-anchor="middle" font-size="9.5" class="t2">Normalized To Mode</text>
<text transform="translate(502.9,261.3) scale(0.85,1)" font-size="9.2" class="t">0,38</text>
<text transform="translate(659.9,261.3) scale(0.85,1)" text-anchor="end" font-size="9.2" class="t">99,6</text>
<path d="M499.4,377.1H537.3M537.3,386.2H671.6" stroke="#000" stroke-width="1.5"/>
<path d="M537.3,373.9V380.3M537.3,383.0V389.4M671.1,383.0V389.4" stroke="#000" stroke-width="1.6"/>
<path d="M206.8,507.0V502.4H374.3V507.0" fill="none" stroke="#111" stroke-width="1.2"/>
<path d="M288.4,517.0V512.4H374.3V517.0" fill="none" stroke="#111" stroke-width="1.2"/>
<path d="M253.1,526.9V522.3H420.5V526.9" fill="none" stroke="#111" stroke-width="1.2"/>
<path d="M334.3,536.9V532.3H420.5V536.9" fill="none" stroke="#111" stroke-width="1.2"/>
<text x="288.6" y="503.1" text-anchor="middle" font-size="14" font-weight="bold">*</text>
<text x="329.5" y="514.7" text-anchor="middle" font-size="14" font-weight="bold">*</text>
<text x="329.5" y="524.6" text-anchor="middle" font-size="14" font-weight="bold">*</text>
<text x="379.0" y="534.6" text-anchor="middle" font-size="14" font-weight="bold">*</text>
<path d="M200.3,694.7V692.2M193.0,692.2H207.6" stroke="#111" stroke-width="1.1"/>
<rect x="185.7" y="695.3" width="29.2" height="25.5" fill="#c5c5c5" stroke="#111" stroke-width="1.2"/>
<path d="M244.6,622.3V606.9M237.3,606.9H251.9" stroke="#111" stroke-width="1.1"/>
<rect x="229.4" y="622.3" width="30.4" height="98.5" fill="#232323"/>
<path d="M288.9,686.5V683.7M281.6,683.7H296.2" stroke="#111" stroke-width="1.1"/>
<rect x="274.3" y="687.1" width="29.2" height="33.7" fill="#c5c5c5" stroke="#111" stroke-width="1.2"/>
<path d="M333.1,595.0V591.2M325.8,591.2H340.4" stroke="#111" stroke-width="1.1"/>
<rect x="317.9" y="595.0" width="30.4" height="125.8" fill="#232323"/>
<path d="M377.2,630.7V626.7M369.9,626.7H384.5" stroke="#111" stroke-width="1.1"/>
<rect x="362.6" y="631.3" width="29.2" height="89.5" fill="#c5c5c5" stroke="#111" stroke-width="1.2"/>
<path d="M421.6,544.8V544.3M414.3,544.3H428.9" stroke="#111" stroke-width="1.1"/>
<rect x="406.4" y="544.8" width="30.4" height="176.0" fill="#232323"/>
<path d="M178.1,542.3V720.8H442.6" fill="none" stroke="#000" stroke-width="1.6"/>
<path d="M173.1,720.8H178.1M173.1,685.1H178.1M173.1,649.4H178.1M173.1,613.7H178.1M173.1,578.0H178.1M173.1,542.3H178.1M200.3,720.8V725.6M244.6,720.8V725.6M288.9,720.8V725.6M333.1,720.8V725.6M377.2,720.8V725.6M421.6,720.8V725.6" stroke="#000" stroke-width="1.4"/>
<text x="171.4" y="725.2" text-anchor="end" font-size="12.6" font-weight="bold">0</text>
<text x="171.4" y="689.5" text-anchor="end" font-size="12.6" font-weight="bold">20</text>
<text x="171.4" y="653.8" text-anchor="end" font-size="12.6" font-weight="bold">40</text>
<text x="171.4" y="618.1" text-anchor="end" font-size="12.6" font-weight="bold">60</text>
<text x="171.4" y="582.4" text-anchor="end" font-size="12.6" font-weight="bold">80</text>
<text x="171.4" y="546.7" text-anchor="end" font-size="12.6" font-weight="bold">100</text>
<text transform="translate(141.8,631.5) rotate(-90)" text-anchor="middle" font-size="17.5" font-weight="bold">Foxp3 (%)</text>
<text x="224.0" y="748.6" text-anchor="middle" font-size="13.8">Day 1</text>
<text x="316.1" y="748.6" text-anchor="middle" font-size="13.8">Day 3</text>
<text x="401.5" y="748.6" text-anchor="middle" font-size="13.8">Day 5</text>
<text x="131.0" y="498.0" font-size="22" font-weight="bold">B</text>
<rect x="471" y="554.6" width="16" height="14" fill="#c5c5c5" stroke="#222" stroke-width="1.2"/>
<rect x="470.4" y="576.9" width="17" height="14.6" fill="#232323"/>
<text x="490.6" y="566.6" font-size="13.6">CD4<tspan font-size="9.2" dy="3.2">Med</tspan></text>
<text x="492.6" y="588.8" font-size="13.6">CD4<tspan font-size="9.2" dy="3.2">TGF/atRA</tspan></text>
</svg>
</body></html>
